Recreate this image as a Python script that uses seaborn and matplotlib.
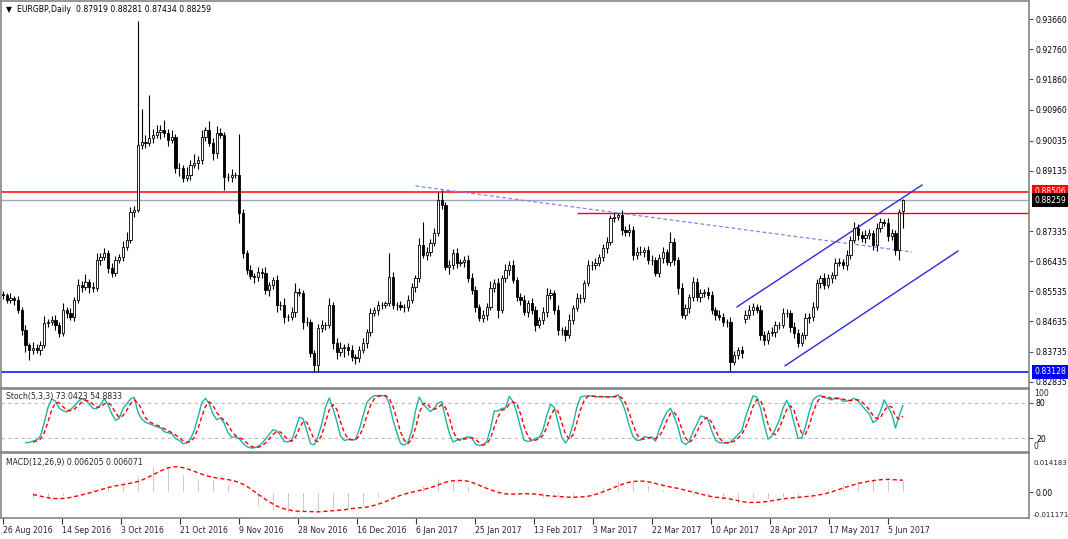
import numpy as np
import pandas as pd
import matplotlib
matplotlib.use("Agg")
import matplotlib.pyplot as plt
import matplotlib.transforms as mtransforms
import seaborn as sns

# ---------------- data ----------------
closes = [
    0.8542, 0.8528, 0.8534, 0.8528, 0.8498, 0.8438, 0.8393, 0.8378, 0.8384, 0.8378,
    0.8393, 0.8459, 0.8462, 0.8468, 0.8453, 0.8429, 0.8498, 0.8489, 0.8477, 0.8528,
    0.8572, 0.8566, 0.8581, 0.8566, 0.8563, 0.8647, 0.8656, 0.8668, 0.8623, 0.8608,
    0.8647, 0.8656, 0.8686, 0.8707, 0.8790, 0.8796, 0.8990, 0.8999, 0.8996, 0.9011,
    0.9020, 0.9029, 0.9035, 0.9026, 0.9005, 0.9014, 0.8921, 0.8921, 0.8892, 0.8901,
    0.8930, 0.8936, 0.8945, 0.9014, 0.9035, 0.8996, 0.8966, 0.9026, 0.9020, 0.8895,
    0.8895, 0.8901, 0.8901, 0.8787,
    0.8668, 0.8617, 0.8599, 0.8596, 0.8611, 0.8608, 0.8557, 0.8572, 0.8587, 0.8513,
    0.8513, 0.8477, 0.8477, 0.8492, 0.8551, 0.8548, 0.8462, 0.8462, 0.8369, 0.8334,
    0.8444, 0.8453, 0.8453, 0.8513, 0.8399, 0.8372, 0.8384, 0.8387, 0.8378, 0.8357,
    0.8354, 0.8378, 0.8399, 0.8432, 0.8489, 0.8498, 0.8513, 0.8513, 0.8518, 0.8596,
    0.8513, 0.8513, 0.8507, 0.8507, 0.8528, 0.8566, 0.8593, 0.8692, 0.8662, 0.8671,
    0.8698, 0.8727, 0.8826, 0.8811, 0.8626, 0.8632, 0.8668, 0.8638, 0.8641, 0.8647,
    0.8593,
    0.8557, 0.8507, 0.8474, 0.8483, 0.8507, 0.8563, 0.8578, 0.8498, 0.8593, 0.8617,
    0.8632, 0.8587, 0.8536, 0.8528, 0.8492, 0.8518, 0.8498, 0.8453, 0.8468, 0.8492,
    0.8542, 0.8548, 0.8498, 0.8438, 0.8438, 0.8423, 0.8468, 0.8504, 0.8534, 0.8534,
    0.8578, 0.8632, 0.8632, 0.8638, 0.8656, 0.8683, 0.8701, 0.8772, 0.8775, 0.8781,
    0.8737, 0.8730, 0.8737, 0.8662, 0.8671, 0.8671, 0.8677, 0.8647, 0.8647, 0.8608,
    0.8653, 0.8671, 0.8641, 0.8701, 0.8647, 0.8563, 0.8483, 0.8504, 0.8536, 0.8581,
    0.8536,
    0.8548, 0.8551, 0.8542, 0.8498, 0.8483, 0.8477, 0.8462, 0.8462, 0.8343, 0.8363,
    0.8378, 0.8369, 0.8483, 0.8498, 0.8507, 0.8498, 0.8423, 0.8408, 0.8429, 0.8432,
    0.8453, 0.8453, 0.8489, 0.8489, 0.8447, 0.8429, 0.8399, 0.8423, 0.8474, 0.8477,
    0.8507, 0.8578, 0.8593, 0.8572, 0.8593, 0.8602, 0.8638, 0.8641, 0.8632, 0.8662,
    0.8707, 0.8743, 0.8722, 0.8713, 0.8722, 0.8727, 0.8692, 0.8743, 0.8760, 0.8757,
    0.8719, 0.8727, 0.8677, 0.8790, 0.88259,
]

upper_wick_pips = [
    10, 8, 14, 6, 12, 9, 15, 7, 18, 11, 13, 20, 9, 12, 16, 8, 22, 10, 14, 9,
    18, 12, 25, 8, 15, 20, 11, 16, 9, 14, 12, 10, 19, 24, 15, 12, 370, 100, 20, 128,
    18, 22, 15, 30, 12, 20, 9, 16, 10, 24, 14, 26, 12, 20, 10, 28, 14, 22, 15, 8,
    12, 18, 10, 122,
    12, 10, 15, 8, 14, 12, 18, 10, 9, 16, 12, 20, 10, 15, 28, 12, 10, 14, 8, 10,
    12, 16, 10, 22, 9, 14, 18, 10, 12, 15, 10, 12, 16, 10, 14, 9, 12, 10, 8, 72,
    14, 10, 12, 9, 15, 12, 10, 20, 68, 14, 12, 15, 25, 30, 10, 14, 12, 16, 10, 12,
    15,
    14, 12, 10, 16, 12, 22, 12, 14, 10, 18, 12, 15, 10, 12, 14, 10, 16, 12, 10, 14,
    22, 12, 10, 14, 10, 12, 18, 10, 14, 12, 10, 16, 12, 14, 10, 12, 15, 10, 12, 6,
    14, 10, 16, 12, 14, 18, 10, 12, 14, 10, 12, 15, 10, 29, 12, 10, 14, 12, 10, 16,
    12,
    12, 10, 14, 12, 10, 16, 12, 10, 14, 12, 10, 12, 14, 16, 12, 10, 14, 12, 10, 14,
    12, 10, 14, 12, 10, 14, 12, 10, 16, 12, 14, 12, 10, 14, 12, 10, 14, 12, 10, 14,
    12, 18, 10, 12, 14, 12, 10, 14, 12, 10, 14, 12, 10, 10, 2.2,
]

lower_wick_pips = [
    12, 10, 8, 15, 9, 14, 20, 28, 12, 10, 16, 8, 12, 10, 15, 12, 8, 14, 10, 12,
    9, 15, 10, 18, 12, 8, 14, 10, 16, 12, 10, 8, 12, 9, 10, 14, 5, 12, 16, 10,
    14, 8, 20, 12, 18, 10, 15, 22, 12, 10, 14, 8, 16, 10, 12, 9, 20, 14, 10, 39,
    12, 16, 10, 30,
    15, 12, 10, 18, 12, 14, 10, 16, 12, 20, 14, 18, 12, 10, 14, 9, 20, 12, 10, 20,
    21, 12, 15, 10, 18, 20, 12, 25, 14, 10, 16, 12, 10, 14, 12, 10, 15, 12, 10, 8,
    12, 16, 10, 14, 12, 10, 14, 12, 10, 14, 12, 10, 8, 12, 10, 20, 12, 16, 10, 14,
    12,
    12, 14, 10, 12, 16, 10, 12, 25, 10, 12, 14, 10, 12, 16, 10, 14, 12, 18, 10, 12,
    14, 10, 12, 16, 14, 18, 10, 12, 10, 14, 12, 10, 14, 12, 10, 12, 14, 10, 12, 10,
    14, 12, 10, 16, 12, 10, 14, 12, 16, 10, 12, 14, 10, 12, 14, 18, 10, 12, 14, 10,
    12,
    14, 12, 10, 12, 14, 10, 12, 14, 30, 10, 12, 14, 10, 12, 14, 10, 16, 14, 12, 10,
    14, 12, 10, 12, 14, 16, 12, 10, 12, 14, 12, 10, 14, 12, 10, 14, 12, 10, 12, 14,
    12, 10, 14, 12, 16, 12, 14, 18, 12, 10, 14, 12, 16, 30, 48.5,
]

first_open = 0.8545
gap_opens = {198: 0.8470, 240: 0.87919}   # bars that opened away from prior close

date_labels = ["26 Aug 2016", "14 Sep 2016", "3 Oct 2016", "21 Oct 2016", "9 Nov 2016",
               "28 Nov 2016", "16 Dec 2016", "6 Jan 2017", "25 Jan 2017", "13 Feb 2017",
               "3 Mar 2017", "22 Mar 2017", "10 Apr 2017", "28 Apr 2017", "17 May 2017",
               "5 Jun 2017"]
price_ticks = [0.93660, 0.92760, 0.91860, 0.90960, 0.90035, 0.89135,
               0.87335, 0.86435, 0.85535, 0.84635, 0.83735, 0.82835]

level_resist = 0.88506
level_current = 0.88259
level_support = 0.83128
level_march_high = 0.87871
march_high_start_bar = 153

dotted_bars = [110.0, 242.4]
dotted_prices = [0.8868, 0.8671]
chan_up_bars = [195.7, 245.1]
chan_up_prices = [0.8507, 0.8871]
chan_lo_bars = [208.5, 254.7]
chan_lo_prices = [0.8331, 0.8674]

stoch_levels = [80, 20]
macd_edge_labels = [0.014183, -0.011171]

# ---------------- build OHLC ----------------
n = len(closes)
idx = np.arange(n)
c = np.array(closes)
o = np.concatenate([[first_open], c[:-1]])
for k, v in gap_opens.items():
    o[k] = v
h = np.maximum(o, c) + np.array(upper_wick_pips) * 1e-4
l = np.minimum(o, c) - np.array(lower_wick_pips) * 1e-4

cs, hs, ls = pd.Series(c), pd.Series(h), pd.Series(l)
ll5 = ls.rolling(5).min()
hh5 = hs.rolling(5).max()
stoch_k = 100 * (cs - ll5).rolling(3).sum() / (hh5 - ll5).rolling(3).sum()
stoch_d = stoch_k.rolling(3).mean()
macd_main = cs.ewm(span=12, adjust=False).mean() - cs.ewm(span=26, adjust=False).mean()
macd_sig = macd_main.rolling(9).mean()

# ---------------- figure ----------------
sns.set_theme(style="white")
plt.rcParams["font.family"] = ["DejaVu Sans"]
FS = 5.6
W, H = 1068, 539
fig = plt.figure(figsize=(W / 100, H / 100), dpi=100)
fig.patch.set_facecolor("white")


def rect(x0, y0, x1, y1):
    return [x0 / W, 1 - y1 / H, (x1 - x0) / W, (y1 - y0) / H]


ax1 = fig.add_axes(rect(1, 1, 1029, 388))
ax2 = fig.add_axes(rect(1, 389, 1029, 452), sharex=ax1)
ax3 = fig.add_axes(rect(1, 453, 1029, 518), sharex=ax1)

ppb = 900.0 / (n - 1)
x_left = -2.0 / ppb
x_right = 1026.0 / ppb

spine_col = "#858585"
for ax in (ax1, ax2, ax3):
    ax.set_facecolor("white")
    for s in ax.spines.values():
        s.set_color(spine_col)
        s.set_linewidth(1.2)
    ax.yaxis.tick_right()
    ax.tick_params(axis="y", labelsize=FS, length=3, width=0.8, color="#555555",
                   pad=2, labelcolor="black")
    ax.grid(False)
ax1.set_xlim(x_left, x_right)

# ---- main price panel ----
ax1.set_ylim(0.8265, 0.9420)
up = c >= o
ax1.vlines(idx, l, h, color="black", lw=0.8, zorder=3)
ax1.bar(idx, np.maximum(np.abs(c - o), 0.00005), bottom=np.minimum(o, c), width=0.62,
        color=np.where(up, "white", "black"), edgecolor="black", linewidth=0.6, zorder=4)

ax1.axhline(level_resist, color="#ff0000", lw=1.1, zorder=2)
ax1.axhline(level_current, color="#9aaab8", lw=1.0, zorder=2)
ax1.axhline(level_support, color="#0000ff", lw=1.1, zorder=2)
ax1.hlines(level_march_high, march_high_start_bar, x_right, color="#ff0000", lw=1.0, zorder=2)
ax1.plot(dotted_bars, dotted_prices, color="#8c80e6", lw=0.9, ls=(0, (3, 2)), zorder=2)
ax1.plot(chan_up_bars, chan_up_prices, color="#2b2bd9", lw=1.0, zorder=2)
ax1.plot(chan_lo_bars, chan_lo_prices, color="#2b2bd9", lw=1.0, zorder=2)

ax1.set_yticks(price_ticks)
ax1.set_yticklabels([f"{v:.5f}" for v in price_ticks])
ax1.tick_params(axis="x", bottom=False, labelbottom=False)

tr1 = mtransforms.blended_transform_factory(ax1.transAxes, ax1.transData)
for val, col in [(level_resist, "#ff0000"), (level_current, "#000000"), (level_support, "#0000ff")]:
    ax1.text(1.0 + 5.5 / 1028, val, f"{val:.5f}", transform=tr1, ha="left", va="center",
             fontsize=FS, color="white", clip_on=False, zorder=10,
             bbox=dict(boxstyle="square,pad=0.28", fc=col, ec="none"))

ax1.text(5 / 1028, 1 - 9 / 387, "\u25bc  EURGBP,Daily  0.87919 0.88281 0.87434 0.88259",
         transform=ax1.transAxes, ha="left", va="center", fontsize=FS, color="black", zorder=10)

# ---- stochastic panel ----
ax2.set_ylim(-4, 104)
for lv in stoch_levels:
    ax2.axhline(lv, color="#b8b8b8", lw=0.8, ls=(0, (3, 3)), zorder=1)
sns.lineplot(x=idx, y=stoch_k.values, ax=ax2, color="#20b2aa", lw=1.0, zorder=3)
sns.lineplot(x=idx, y=stoch_d.values, ax=ax2, color="#ff0000", lw=1.0, ls=(0, (3, 2)), zorder=4)
ax2.set_yticks(stoch_levels)
ax2.set_yticklabels([str(v) for v in stoch_levels])
tr2 = mtransforms.blended_transform_factory(ax2.transAxes, ax2.transData)
ax2.text(1.0 + 5 / 1028, 96, "100", transform=tr2, ha="left", va="center", fontsize=FS,
         clip_on=False)
ax2.text(1.0 + 5 / 1028, 5, "0", transform=tr2, ha="left", va="center", fontsize=FS,
         clip_on=False)
ax2.text(5 / 1028, 1 - 8 / 63, "Stoch(5,3,3) 73.0423 54.8833", transform=ax2.transAxes,
         ha="left", va="center", fontsize=FS, zorder=10)
ax2.tick_params(axis="x", bottom=False, labelbottom=False)
ax2.set_xlabel("")
ax2.set_ylabel("")

# ---- MACD panel ----
ax3.set_ylim(-0.01271, 0.01907)
ax3.bar(idx, macd_main.values, width=0.32, color="#a9a9a9", zorder=2)
sns.lineplot(x=idx, y=macd_sig.values, ax=ax3, color="#ff0000", lw=1.0, ls=(0, (3, 2)), zorder=3)
ax3.set_yticks([0.0])
ax3.set_yticklabels(["0.00"])
tr3 = mtransforms.blended_transform_factory(ax3.transAxes, ax3.transData)
for v in macd_edge_labels:
    ax3.text(1.0 + 4 / 1028, v, f"{v:.6f}", transform=tr3, ha="left", va="center",
             fontsize=5.1, clip_on=False)
ax3.text(5 / 1028, 1 - 9 / 65, "MACD(12,26,9) 0.006205 0.006071", transform=ax3.transAxes,
         ha="left", va="center", fontsize=FS, zorder=10)
ax3.set_ylabel("")

tick_pos = np.arange(len(date_labels)) * 59.0 / ppb
ax3.set_xticks(tick_pos)
ax3.set_xticklabels(date_labels)
ax3.tick_params(axis="x", bottom=True, labelbottom=True, labelsize=FS, length=4, width=0.8,
                color="#333333", pad=1.5, direction="out")
for t in ax3.get_xticklabels():
    t.set_ha("left")
ax3.set_xlim(x_left, x_right)

fig.savefig("out.png", dpi=100, facecolor="white")
